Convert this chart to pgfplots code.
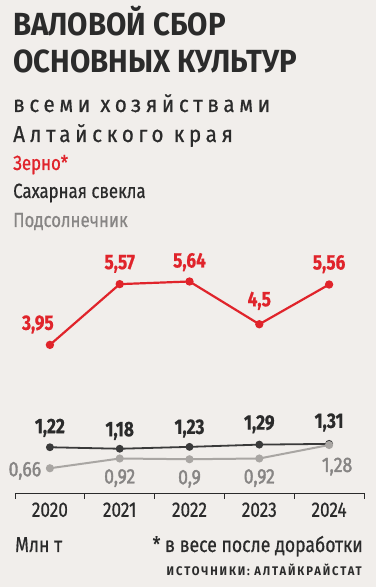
\documentclass[border=0pt]{standalone}
\usepackage{fontspec}
\setmainfont{Fira Sans}[FakeStretch=0.82,FakeBold=0.6]
\newfontfamily\titlefont{Fira Sans}[FakeStretch=0.92,UprightFont=*-Bold]
\newfontfamily\medfont{Fira Sans}[FakeStretch=0.84,FakeBold=1.6]
\newfontfamily\subfont{Fira Sans}[FakeStretch=0.9,FakeBold=0.5,LetterSpace=20]
\newfontfamily\srcfont{Fira Sans}[FakeStretch=0.9,UprightFont=*-Bold,LetterSpace=15]
\usepackage{pgfplots}
\pgfplotsset{compat=1.18}
\usepackage{pgfplotstable}
\definecolor{bg}{HTML}{F1EEEB}
\definecolor{red1}{HTML}{E0242B}
\definecolor{dark}{HTML}{2B2B2B}
\definecolor{line2}{HTML}{3A3A3A}
\definecolor{grayl}{HTML}{A9A6A3}
\definecolor{grayt}{HTML}{878584}

\pgfplotstableread{
x y dx dy
0 3.95 -12 15
1 5.57 0 15
2 5.64 0 14
3 4.5 0 18
4 5.56 0 15
}\grain
\pgfplotstableread{
x y dx dy
0 1.22 0 14
1 1.18 0 12.5
2 1.23 0 13
3 1.29 0 15
4 1.31 0 16
}\beet
\pgfplotstableread{
x y dx dy
0 0.66 -25 -8
1 0.92 0 -25
2 0.9 0 -25
3 0.92 0 -25
4 1.28 8 -27
}\sun

\begin{document}
\begin{tikzpicture}[x=1pt,y=1pt]
\fill[bg] (0,0) rectangle (376,587);
\node[anchor=base west,inner sep=0pt,text=dark] at (13,551) {\titlefont\fontsize{32}{32}\selectfont ВАЛОВОЙ СБОР};
\node[anchor=base west,inner sep=0pt,text=dark] at (13,514) {\titlefont\fontsize{32}{32}\selectfont ОСНОВНЫХ КУЛЬТУР};
\node[anchor=base west,inner sep=0pt,text=dark] at (13,475) {\subfont\fontsize{23}{23}\selectfont всеми хозяйствами};
\node[anchor=base west,inner sep=0pt,text=dark] at (13,445) {\subfont\fontsize{23}{23}\selectfont Алтайского края};
\node[anchor=base west,inner sep=0pt,text=red1] at (13,417) {\fontsize{20.5}{20}\selectfont Зерно*};
\node[anchor=base west,inner sep=0pt,text=dark] at (13,389) {\fontsize{20.5}{20}\selectfont Сахарная свекла};
\node[anchor=base west,inner sep=0pt,text=grayt] at (13,360) {\fontsize{20.5}{20}\selectfont Подсолнечник};
\begin{axis}[
  at={(15pt,94pt)}, anchor=south west,
  scale only axis, width=349pt, height=225pt,
  xmin=-0.5, xmax=4.5, ymin=0, ymax=6,
  axis x line*=bottom, axis y line=none,
  x axis line style={line width=0.8pt, draw=dark},
  xtick={0,1,2,3,4}, xticklabels={2020,2021,2022,2023,2024},
  major tick length=0pt,
  extra x ticks={-0.5,0.5,1.5,2.5,3.5,4.5},
  extra x tick labels={},
  extra x tick style={major tick length=6pt, xtick align=outside, tick style={line width=0.8pt,draw=dark}},
  xticklabel style={font=\fontsize{21}{21}\selectfont, text=dark, yshift=-6pt},
  /pgf/number format/assume math mode=true,
  /pgf/number format/use comma,
  clip=false,
  nodes near coords,
  visualization depends on={\thisrow{dx} \as \dx},
  visualization depends on={\thisrow{dy} \as \dy},
  nodes near coords style={anchor=base, inner sep=0pt, xshift=\dx pt, yshift=\dy pt, font=\fontsize{21}{21}\selectfont\bfseries},
]
\addplot[red1, line width=2.2pt, mark=*, mark size=3pt, nodes near coords style={text=red1}] table[x=x,y=y] {\grain};
\addplot[line2, line width=1.8pt, mark=*, mark size=3pt, nodes near coords style={text=dark}] table[x=x,y=y] {\beet};
\addplot[grayl, line width=2pt, mark=*, mark size=3pt, nodes near coords style={text=grayt, font=\fontsize{21}{21}\selectfont\medfont}] table[x=x,y=y] {\sun};
\end{axis}
\node[anchor=base west,inner sep=0pt,text=dark] at (15,35) {\fontsize{21.5}{20}\selectfont Млн т};
\node[anchor=base east,inner sep=0pt,text=dark] at (363,35) {\fontsize{21.5}{20}\selectfont * в весе после доработки};
\node[anchor=base east,inner sep=0pt,text=dark] at (362,12) {\srcfont\fontsize{12.5}{12}\selectfont ИСТОЧНИКИ: АЛТАЙКРАЙСТАТ};
\end{tikzpicture}
\end{document}
